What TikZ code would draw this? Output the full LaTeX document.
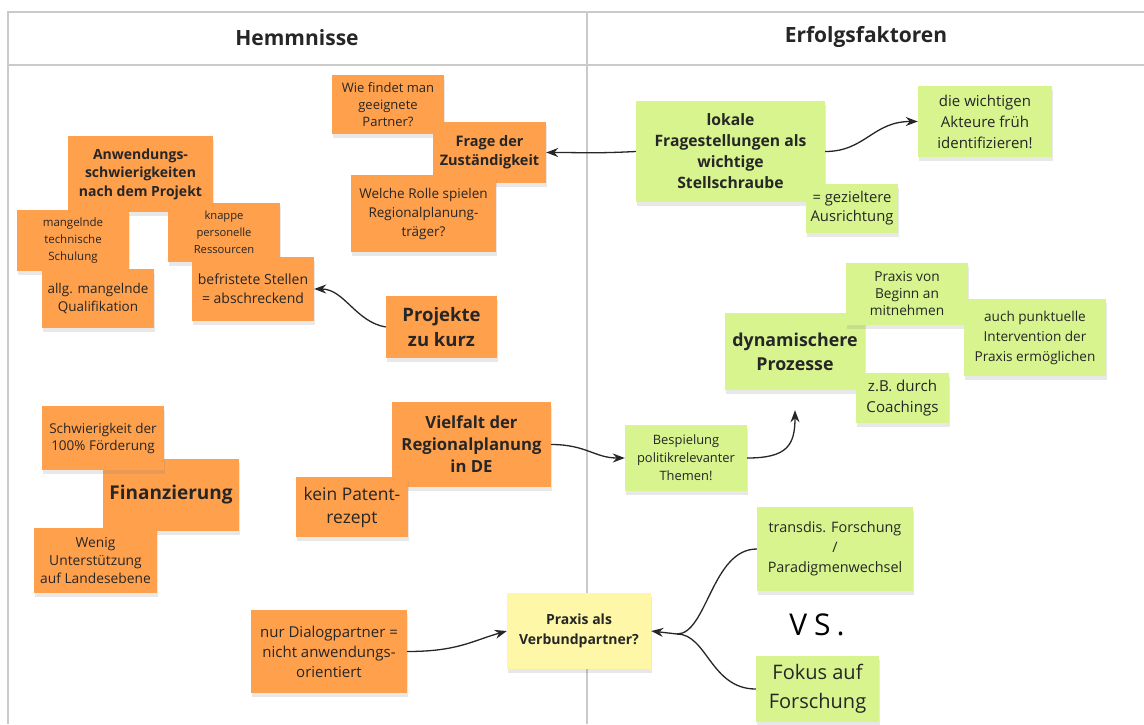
\documentclass[tikz,border=0pt]{standalone}
\usepackage{fontspec}
\setmainfont{Open Sans}
\usepackage{xcolor}
\usepackage{tikz}
\usetikzlibrary{arrows.meta, shadows}

\definecolor{stickyorange}{HTML}{FFA04C}
\definecolor{stickygreen}{HTML}{D7F48F}
\definecolor{stickyyellow}{HTML}{FFF7A8}
\definecolor{gridgray}{HTML}{CACACA}
\definecolor{inkgray}{HTML}{262626}

\begin{document}
\begin{tikzpicture}[
  x=1pt, y=-1pt,
  note/.style={rectangle, inner sep=2pt, align=center, text=inkgray,
               drop shadow={shadow xshift=1pt, shadow yshift=-4pt, opacity=0.18}},
  onote/.style={note, fill=stickyorange},
  gnote/.style={note, fill=stickygreen},
  ynote/.style={note, fill=stickyyellow},
  tx/.style 2 args={font=\fontsize{#1}{#2}\selectfont},
  bx/.style 2 args={font=\fontsize{#1}{#2}\selectfont\bfseries},
  arr/.style={-{Stealth[length=12pt, width=9pt]}, line width=1.3pt, black!85},
  grid/.style={draw=gridgray, line width=1.4pt},
]
\useasboundingbox (0,0) rectangle (1144,724);

% table
\draw[grid] (1144,12) -- (8,12) -- (8,724);
\draw[grid] (8,65) -- (1144,65);
\draw[grid] (587,12) -- (587,724);
\node[bx={21}{24}, text=inkgray] (hemm) at (297,38) {Hemmnisse};
\node[bx={21}{24}, text=inkgray] (erfolg) at (866,37) {Erfolgsfaktoren};

% Hemmnisse
\node[onote, tx={13}{17}, minimum width=112, minimum height=59] (wiefindet) at (388,104.5) {Wie findet man\\geeignete\\Partner?};
\node[onote, bx={14.5}{19}, minimum width=113, minimum height=61] (frage) at (489.5,152.5) {Frage der\\Zuständigkeit};
\node[onote, tx={13.5}{19}, minimum width=145, minimum height=77] (welche) at (423.5,213.5) {Welche Rolle spielen\\Regionalplanung-\\träger?};

\node[onote, bx={14}{18.5}, minimum width=145, minimum height=76] (anwend) at (140.5,174) {Anwendungs-\\schwierigkeiten\\nach dem Projekt};
\node[onote, tx={11.5}{17}, minimum width=112, minimum height=61] (mangel) at (73,240.5) {mangelnde\\technische\\Schulung};
\node[onote, tx={13.5}{18}, minimum width=112, minimum height=59] (allg) at (98,298.5) {allg. mangelnde\\Qualifikation};
\node[onote, tx={11.2}{17}, minimum width=112, minimum height=59] (knappe) at (224,232.5) {knappe\\personelle\\Ressourcen};
\node[onote, tx={14}{19}, minimum width=122, minimum height=64] (befrist) at (253,289) {befristete Stellen\\= abschreckend};
\node[onote, bx={18.5}{25}, minimum width=111, minimum height=62] (projekte) at (441.5,327) {Projekte\\zu kurz};

\node[onote, bx={19}{24}, minimum width=136, minimum height=72] (finanz) at (171,495) {Finanzierung};
\node[onote, tx={13.5}{17}, minimum width=122, minimum height=64] (schwierig) at (103,438) {Schwierigkeit der\\100\% Förderung};
\node[onote, tx={13.8}{18}, minimum width=123, minimum height=65] (wenig) at (95.5,560.5) {Wenig\\Unterstützung\\auf Landesebene};

\node[onote, bx={16.7}{22}, minimum width=159, minimum height=85] (vielfalt) at (471.5,444.5) {Vielfalt der\\Regionalplanung\\in DE};
\node[onote, tx={17.4}{23}, minimum width=112, minimum height=60] (patent) at (352,507) {kein Patent-\\rezept};

\node[onote, tx={15}{20}, minimum width=156, minimum height=83] (dialog) at (329,651.5) {nur Dialogpartner =\\nicht anwendungs-\\orientiert};
\node[ynote, bx={14}{20}, minimum width=144, minimum height=76] (verbund) at (579,631) {Praxis als\\Verbundpartner?};

% Erfolgsfaktoren
\node[gnote, bx={15.7}{21}, minimum width=189, minimum height=101] (lokale) at (730.5,151.5) {lokale\\Fragestellungen als\\wichtige\\Stellschraube};
\node[gnote, tx={14.8}{19}, minimum width=92, minimum height=49] (gezielt) at (852,208.5) {= gezieltere\\Ausrichtung};
\node[gnote, tx={15}{21}, minimum width=134, minimum height=71] (akteure) at (985,121.5) {die wichtigen\\Akteure früh\\identifizieren!};

\node[gnote, bx={17.8}{24}, minimum width=140, minimum height=77] (dyn) at (795,351.5) {dynamischere\\Prozesse};
\node[gnote, tx={13.7}{17}, minimum width=122, minimum height=62] (beginn) at (907,294) {Praxis von\\Beginn an\\mitnehmen};
\node[gnote, tx={13.6}{20}, minimum width=142, minimum height=77] (punktuell) at (1035,337.5) {auch punktuelle\\Intervention der\\Praxis ermöglichen};
\node[gnote, tx={15.1}{21}, minimum width=93, minimum height=50] (zb) at (902.5,398) {z.B. durch\\Coachings};
\node[gnote, tx={12.9}{18}, minimum width=122, minimum height=66] (bespiel) at (686,458) {Bespielung\\politikrelevanter\\Themen!};

\node[gnote, tx={14.4}{20}, minimum width=156, minimum height=84] (transdis) at (835,549) {transdis. Forschung\\/\\Paradigmenwechsel};
\node[text=black, tx={30}{34}] (vs) at (817,625) {V\hspace{7pt}S\hspace{6pt}.};
\node[gnote, tx={20}{29}, minimum width=123, minimum height=66] (fokus) at (817.5,689) {Fokus auf\\Forschung};

% connectors
\coordinate (fork) at (677,634);
\draw[arr] (lokale.west) .. controls +(-40,2) and +(40,0) .. (frage.east);
\draw[arr] (lokale.east) .. controls +(40,0) and +(-45,0) .. (akteure.west);
\draw[arr] (projekte.west) .. controls +(-30,-5) and +(30,0) .. (befrist.east);
\draw[arr] (vielfalt.east) .. controls +(35,0) and +(-30,0) .. (bespiel.west);
\draw[arr] (bespiel.east) .. controls +(40,0) and +(0,35) .. ([yshift=-20pt]dyn.south);
\draw[arr] (dialog.east) .. controls +(50,0) and +(-35,10) .. (verbund.west);
\draw[line width=1.3pt, black!85] (transdis.west) .. controls +(-45,0) and +(30,0) .. (fork);
\draw[line width=1.3pt, black!85] (fokus.west) .. controls +(-45,0) and +(30,0) .. (fork);
\draw[arr] (fork) -- (verbund.east);
\end{tikzpicture}
\end{document}
